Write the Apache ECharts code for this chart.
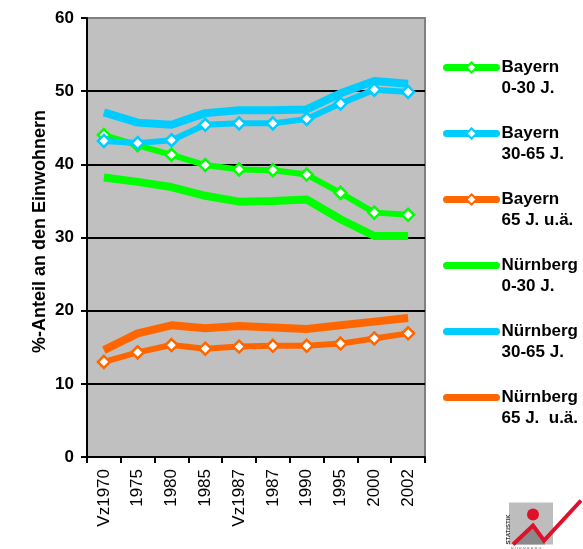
<!DOCTYPE html>
<html>
<head>
<meta charset="utf-8">
<script src="https://cdn.jsdelivr.net/npm/echarts@6/dist/echarts.min.js"></script>
<style>
  html, body { margin: 0; padding: 0; background: #fff; }
  #chart { width: 583px; height: 549px; }
</style>
</head>
<body>
<div id="chart"></div>
<script>
// Census / year categories
const categories = ['Vz1970', '1975', '1980', '1985', 'Vz1987', '1987', '1990', '1995', '2000', '2002'];

// Share of inhabitants (%) by age group
const bayern0to30    = [44.0, 42.6, 41.3, 39.9, 39.3, 39.2, 38.6, 36.1, 33.4, 33.1];
const bayern30to65   = [43.2, 42.9, 43.3, 45.4, 45.6, 45.6, 46.2, 48.3, 50.2, 49.9];
const bayern65plus   = [13.0, 14.3, 15.3, 14.8, 15.1, 15.2, 15.2, 15.5, 16.2, 16.9];
const nuernberg0to30  = [38.2, 37.6, 36.9, 35.7, 34.9, 35.0, 35.2, 32.5, 30.2, 30.2];
const nuernberg30to65 = [47.1, 45.7, 45.4, 47.0, 47.4, 47.4, 47.5, 49.7, 51.4, 51.0];
const nuernberg65plus = [14.6, 16.9, 18.0, 17.6, 17.9, 17.7, 17.5, 18.0, 18.5, 19.0];

const seriesNames = [
  'Bayern\n0-30 J.', 'Bayern\n30-65 J.', 'Bayern\n65 J. u.ä.',
  'Nürnberg\n0-30 J.', 'Nürnberg\n30-65 J.', 'Nürnberg\n65 J.  u.ä.'
];

const GREEN = '#00FF00', BLUE = '#00CCFF', ORANGE = '#FF6600';
const FONT = 'Liberation Sans, Arial, sans-serif';
// plain lines get a legend key without the marker
const NO_MARKER = { color: 'rgba(0,0,0,0)', borderWidth: 0 };

function bayernSeries(name, data, color) {
  return {
    name, type: 'line', data, z: 5,
    symbol: 'diamond', symbolSize: 12,
    lineStyle: { color, width: 6 },
    itemStyle: { color: '#fff', borderColor: color, borderWidth: 2.5 },
    emphasis: { disabled: true }
  };
}
function nuernbergSeries(name, data, color) {
  return {
    name, type: 'line', data, z: 3,
    symbol: 'none',
    lineStyle: { color, width: 8 },
    itemStyle: { color },
    emphasis: { disabled: true }
  };
}

const chart = echarts.init(document.getElementById('chart'), null, { renderer: 'canvas' });
chart.setOption({
  animation: false,
  backgroundColor: '#fff',
  grid: {
    left: 87, right: 158, top: 18, bottom: 92,
    show: true, backgroundColor: '#C0C0C0', borderColor: '#808080', borderWidth: 2
  },
  legend: {
    orient: 'vertical', left: 443, top: 36, padding: 0,
    itemWidth: 50, itemHeight: 13, itemGap: 3,
    lineStyle: { width: 7, cap: 'round' },
    itemStyle: { borderWidth: 2 },
    data: [
      { name: seriesNames[0] },
      { name: seriesNames[1] },
      { name: seriesNames[2] },
      { name: seriesNames[3], itemStyle: NO_MARKER },
      { name: seriesNames[4], itemStyle: NO_MARKER },
      { name: seriesNames[5], itemStyle: NO_MARKER }
    ],
    // a leading blank line keeps the first text line level with the key
    formatter: name => '\n' + name,
    textStyle: {
      fontFamily: FONT, fontSize: 17, fontWeight: 'bold', color: '#000', lineHeight: 21
    },
    selectedMode: false
  },
  xAxis: {
    type: 'category', data: categories, boundaryGap: true,
    axisLine: { lineStyle: { color: '#000', width: 2 } },
    axisTick: { show: true, length: 6, lineStyle: { color: '#000', width: 2 } },
    axisLabel: { rotate: 90, fontFamily: FONT, fontSize: 17, color: '#000', margin: 12, interval: 0 }
  },
  yAxis: {
    type: 'value', min: 0, max: 60, interval: 10,
    name: '%-Anteil an den Einwohnern', nameLocation: 'middle', nameGap: 38,
    nameMoveOverlap: false,
    nameTextStyle: { fontFamily: FONT, fontSize: 18, fontWeight: 'bold', color: '#000', padding: [0, 0, 0, 12] },
    axisLine: { show: true, lineStyle: { color: '#000', width: 2 } },
    axisTick: { show: true, length: 6, lineStyle: { color: '#000', width: 2 } },
    axisLabel: { fontFamily: FONT, fontSize: 17, fontWeight: 'bold', color: '#000', margin: 13 },
    splitLine: { show: true, lineStyle: { color: ['#000', '#000', '#000', '#000', '#000', '#000', '#808080'], width: 2 } }
  },
  series: [
    bayernSeries(seriesNames[0], bayern0to30, GREEN),
    bayernSeries(seriesNames[1], bayern30to65, BLUE),
    bayernSeries(seriesNames[2], bayern65plus, ORANGE),
    nuernbergSeries(seriesNames[3], nuernberg0to30, GREEN),
    nuernbergSeries(seriesNames[4], nuernberg30to65, BLUE),
    nuernbergSeries(seriesNames[5], nuernberg65plus, ORANGE)
  ],
  // Office logo in the lower right corner
  graphic: [{
    type: 'group', left: 505, top: 498, silent: true,
    children: [
      { type: 'rect', shape: { x: 8, y: 2, width: 44, height: 42 }, style: { fill: '#BDBDBD' } },
      { type: 'polygon', shape: { points: [[14, 44], [32, 26], [44, 40], [44, 44]] }, style: { fill: '#8A8A8A' } },
      { type: 'circle', shape: { cx: 32, cy: 14, r: 6 }, style: { fill: '#E0102A' } },
      { type: 'polyline', shape: { points: [[12, 44], [32, 25], [43, 40], [80, 0]] },
        style: { stroke: '#E0102A', lineWidth: 4, fill: null } },
      { type: 'text', x: 4, y: 44, rotation: Math.PI / 2,
        style: { text: 'STATISTIK', font: 'bold 6px ' + FONT, fill: '#333', textAlign: 'left', textVerticalAlign: 'top' } },
      { type: 'text', x: 10, y: 46,
        style: { text: 'N Ü R N B E R G', font: '4px ' + FONT, fill: '#666' } }
    ]
  }]
});
</script>
</body>
</html>
